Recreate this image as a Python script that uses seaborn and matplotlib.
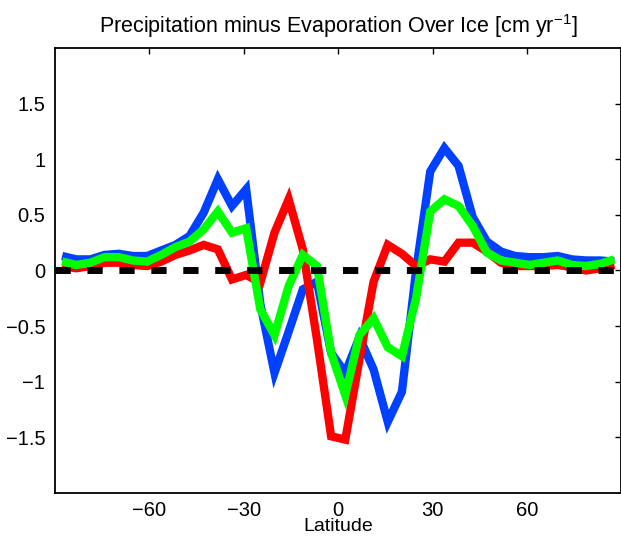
import numpy as np
import pandas as pd
import matplotlib
matplotlib.use("Agg")
import matplotlib.pyplot as plt
import seaborn as sns

# Latitude grid (4.5 degree spacing)
latitude = [-87.75, -83.25, -78.75, -74.25, -69.75, -65.25, -60.75, -56.25, -51.75, -47.25,
            -42.75, -38.25, -33.75, -29.25, -24.75, -20.25, -15.75, -11.25, -6.75, -2.25,
            2.25, 6.75, 11.25, 15.75, 20.25, 24.75, 29.25, 33.75, 38.25, 42.75,
            47.25, 51.75, 56.25, 60.75, 65.25, 69.75, 74.25, 78.75, 83.25, 87.75]

blue_vals = [0.13, 0.10, 0.10, 0.14, 0.15, 0.13, 0.13, 0.18, 0.23, 0.31,
             0.52, 0.82, 0.58, 0.73, -0.30, -0.92, -0.55, -0.17, -0.10, -0.74,
             -0.92, -0.60, -0.89, -1.36, -1.09, 0.00, 0.89, 1.10, 0.94, 0.48,
             0.26, 0.17, 0.13, 0.12, 0.12, 0.13, 0.10, 0.09, 0.09, 0.08]

red_vals = [0.04, 0.02, 0.04, 0.07, 0.07, 0.05, 0.04, 0.08, 0.14, 0.18,
            0.23, 0.19, -0.08, -0.04, -0.11, 0.34, 0.64, 0.19, -0.62, -1.49,
            -1.52, -0.80, -0.10, 0.23, 0.15, 0.04, 0.10, 0.08, 0.25, 0.25,
            0.17, 0.07, 0.04, 0.04, 0.04, 0.05, 0.03, 0.00, 0.02, 0.05]

green_vals = [0.08, 0.05, 0.07, 0.12, 0.12, 0.09, 0.08, 0.14, 0.21, 0.26,
              0.37, 0.53, 0.34, 0.38, -0.35, -0.58, -0.14, 0.14, 0.04, -0.74,
              -1.12, -0.58, -0.43, -0.69, -0.77, -0.25, 0.53, 0.64, 0.58, 0.40,
              0.16, 0.09, 0.07, 0.05, 0.07, 0.09, 0.05, 0.04, 0.06, 0.10]

x_ticks = [-60, -30, 0, 30, 60]
y_ticks = [-1.5, -1, -0.5, 0, 0.5, 1, 1.5]
y_ticklabels = ["\u22121.5", "\u22121", "\u22120.5", "0", "0.5", "1", "1.5"]
x_ticklabels = ["\u221260", "\u221230", "0", "30", "60"]

sns.set_theme(style="white")
plt.rcParams["font.family"] = ["Liberation Sans", "DejaVu Sans"]
plt.rcParams["mathtext.fontset"] = "custom"
plt.rcParams["mathtext.rm"] = "Liberation Sans"

df = pd.DataFrame({
    "lat": latitude * 3,
    "val": blue_vals + red_vals + green_vals,
    "series": ["blue"] * len(latitude) + ["red"] * len(latitude) + ["green"] * len(latitude),
})

fig = plt.figure(figsize=(6.21, 5.39), dpi=100)
ax = fig.add_axes([0.0886, 0.0853, 0.912, 0.8257])

colors = {"blue": "#0040ff", "red": "#ff0000", "green": "#00ff00"}
for name in ["blue", "red", "green"]:
    sns.lineplot(data=df[df["series"] == name], x="lat", y="val", color=colors[name],
                 linewidth=6, ax=ax, legend=False, errorbar=None, sort=False,
                 solid_joinstyle="miter", solid_capstyle="butt")

ax.axhline(0, color="black", linewidth=5, dashes=(2.2, 2.4), zorder=5)

ax.set_xlim(-90, 90)
ax.set_ylim(-2, 2)
ax.set_xticks(x_ticks)
ax.set_xticklabels(x_ticklabels)
ax.set_yticks(y_ticks)
ax.set_yticklabels(y_ticklabels)

for side in ["left", "right", "top", "bottom"]:
    ax.spines[side].set_visible(True)
    ax.spines[side].set_color("black")
    ax.spines[side].set_linewidth(1.3)

ax.tick_params(axis="both", which="both", direction="in", length=4.5, width=1,
               top=True, right=True, labelsize=14.5, colors="black")
ax.tick_params(axis="x", pad=5.5)
ax.tick_params(axis="y", pad=7)

ax.set_xlabel("Latitude", fontsize=14, labelpad=-1, color="black")
ax.set_ylabel("")
ax.set_title("Precipitation minus Evaporation Over Ice [cm yr$^{-1}$]",
             fontsize=15.5, pad=11, color="black")

fig.savefig("out.png", dpi=100)
